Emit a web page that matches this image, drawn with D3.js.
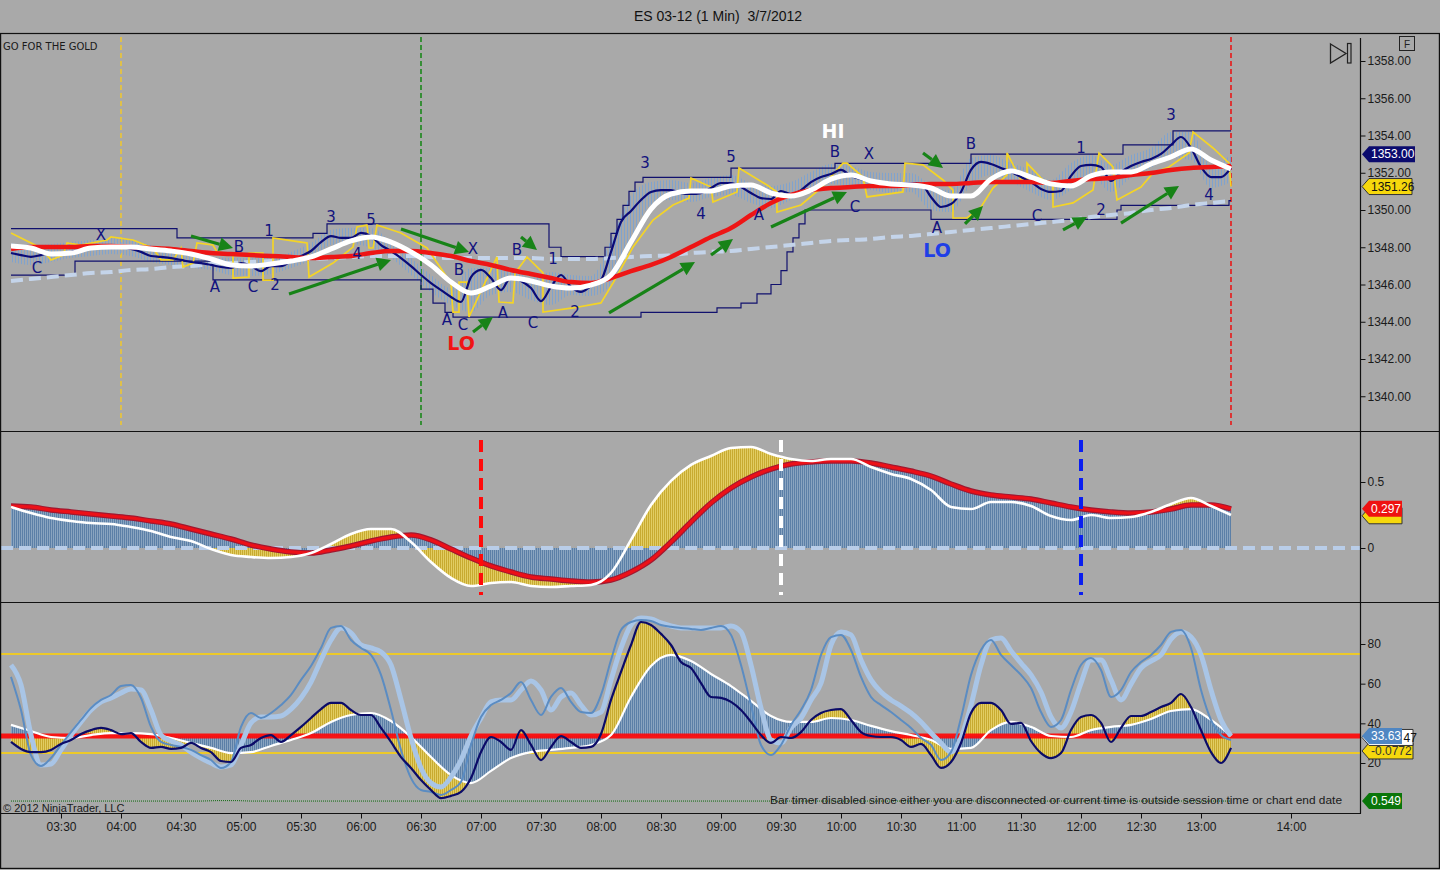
<!DOCTYPE html>
<html><head><meta charset="utf-8">
<script src="https://cdn.jsdelivr.net/npm/d3@7/dist/d3.min.js"></script>
<style>
html,body{margin:0;padding:0;background:#a9a9a9;}
svg{display:block;}
text{font-family:"Liberation Sans",Arial,sans-serif;}
</style></head><body>
<svg id="c" width="1440" height="870"></svg>
<script>
// ---------------- DATA ----------------
const chartTitle = "ES 03-12 (1 Min)  3/7/2012";
const seriesStart = "03:05";           // first bar of every series
const xTickLabels = ["03:30","04:00","04:30","05:00","05:30","06:00","06:30","07:00","07:30","08:00","08:30","09:00","09:30","10:00","10:30","11:00","11:30","12:00","12:30","13:00","14:00"];
const priceTicks = [1340,1342,1344,1346,1348,1350,1352,1354,1356,1358];
const oscTicks = [0,0.5];
const stochTicks = [20,40,60,80];

// price panel: 5-minute fast line
const priceFast = [1347.69,1347.58,1347.48,1347.58,1347.69,1347.69,1347.75,1347.85,1347.96,1348.01,
 1348.01,1348.01,1347.91,1347.75,1347.53,1347.48,1347.42,1347.32,1347.21,1347.15,
 1347.05,1346.94,1346.89,1347.15,1346.99,1346.72,1346.99,1346.99,1347.26,1347.53,
 1347.80,1348.28,1348.60,1348.50,1348.50,1348.77,1348.60,1348.12,1347.80,1347.42,
 1346.99,1346.51,1346.08,1345.70,1345.33,1345.06,1346.40,1346.78,1346.35,1345.70,
 1346.40,1346.19,1345.81,1345.11,1345.87,1346.51,1345.87,1345.60,1345.92,1346.24,
 1347.75,1349.36,1349.95,1350.54,1350.97,1351.07,1351.07,1350.91,1350.86,1350.91,
 1351.18,1351.45,1351.45,1351.23,1350.91,1350.64,1350.59,1351.02,1350.86,1351.07,
 1351.50,1351.77,1351.93,1352.15,1351.83,1351.66,1351.56,1351.50,1351.45,1351.45,
 1351.45,1351.40,1350.70,1350.16,1350.32,1350.97,1352.15,1352.58,1352.47,1352.26,
 1352.04,1351.77,1351.50,1351.13,1350.97,1351.02,1351.83,1352.36,1352.42,1352.31,
 1351.56,1352.04,1352.36,1352.58,1352.74,1353.01,1353.49,1353.92,1353.33,1352.31,
 1351.77,1351.77,1352.26];
// price panel: 10-minute series
const priceWhite = [1348.07,1347.96,1347.64,1347.69,1347.96,1348.01,1348.01,1347.91,1347.80,1347.64,
 1347.37,1347.05,1346.99,1347.10,1347.26,1347.48,1347.91,1348.34,1348.55,1348.28,
 1347.75,1347.05,1346.13,1345.54,1345.92,1346.35,1346.19,1345.92,1345.81,1345.97,
 1346.51,1348.28,1350.05,1350.86,1351.02,1351.02,1351.29,1351.34,1350.91,1350.75,
 1351.07,1351.66,1351.88,1351.56,1351.40,1351.34,1351.18,1350.75,1350.75,1351.66,
 1352.09,1351.77,1351.40,1351.29,1351.83,1352.04,1352.04,1352.47,1352.85,1353.28,
 1352.68,1352.20];
const priceRed = [1347.91,1348.01,1348.01,1348.01,1348.07,1348.07,1348.01,1347.96,1347.91,1347.80,
 1347.69,1347.64,1347.58,1347.53,1347.48,1347.42,1347.48,1347.53,1347.69,1347.80,
 1347.80,1347.69,1347.53,1347.26,1347.05,1346.78,1346.56,1346.35,1346.13,1346.08,
 1346.35,1346.72,1347.05,1347.48,1348.01,1348.55,1349.03,1349.73,1350.38,1350.81,
 1351.07,1351.18,1351.23,1351.29,1351.29,1351.34,1351.40,1351.40,1351.45,1351.50,
 1351.50,1351.50,1351.45,1351.56,1351.66,1351.72,1351.88,1351.99,1352.15,1352.26,
 1352.31,1352.36];
const priceDashed = [1346.19,1346.30,1346.40,1346.51,1346.62,1346.67,1346.78,1346.83,1346.94,1346.99,
 1347.10,1347.15,1347.21,1347.26,1347.32,1347.37,1347.42,1347.48,1347.53,1347.53,
 1347.53,1347.48,1347.42,1347.42,1347.42,1347.42,1347.42,1347.37,1347.37,1347.37,
 1347.42,1347.48,1347.53,1347.58,1347.69,1347.75,1347.80,1347.91,1348.01,1348.12,
 1348.23,1348.34,1348.39,1348.45,1348.55,1348.61,1348.71,1348.82,1348.93,1349.03,
 1349.14,1349.25,1349.35,1349.46,1349.62,1349.73,1349.84,1350.00,1350.11,1350.27,
 1350.38,1350.48];
const barHigh = [1348.23,1348.12,1348.17,1348.28,1348.39,1348.50,1348.39,1348.12,1347.85,1347.64,
 1347.48,1347.42,1347.42,1347.42,1347.75,1348.23,1348.93,1349.03,1349.03,1348.28,
 1347.42,1346.51,1345.81,1346.89,1346.89,1346.89,1346.35,1346.67,1346.51,1346.46,
 1348.39,1350.81,1351.50,1351.61,1351.45,1351.72,1351.88,1351.45,1351.29,1351.50,
 1352.04,1352.47,1352.36,1352.04,1351.99,1351.99,1351.34,1351.07,1352.79,1352.95,
 1352.52,1352.15,1351.61,1352.52,1352.95,1352.42,1352.95,1353.33,1354.19,1354.19,
 1352.42,1352.95];
const barLow = [1347.21,1347.05,1347.21,1347.42,1347.53,1347.64,1347.53,1347.21,1347.05,1346.89,
 1346.78,1346.51,1346.46,1346.56,1346.89,1347.32,1348.12,1348.17,1347.96,1347.42,
 1346.51,1345.60,1344.90,1344.52,1345.44,1345.60,1345.17,1344.90,1345.44,1345.38,
 1345.97,1348.39,1350.27,1350.54,1350.43,1350.70,1350.81,1350.38,1350.11,1350.54,
 1350.97,1351.40,1351.23,1351.07,1350.91,1350.97,1350.00,1349.89,1351.34,1351.88,
 1351.50,1350.97,1350.54,1351.07,1351.88,1350.97,1351.72,1352.26,1352.79,1352.68,
 1351.18,1351.50];
// channel step lines
const envUpperT = ["03:05","04:28","05:36","05:43","07:34","07:40","08:02","08:05","08:08","08:11","08:14","08:17","08:21","09:05","09:57","11:05","12:21","12:46","13:15"];
const envUpperV = [1349.0,1348.5,1348.75,1349.25,1348.0,1347.5,1348.0,1348.75,1349.5,1350.25,1351.0,1351.5,1351.75,1352.25,1352.5,1353.0,1353.5,1354.25,1354.25];
const envLowerT = ["03:05","03:37","04:46","06:30","06:36","06:42","06:46","08:20","08:58","09:10","09:18","09:25","09:30","09:33","09:36","09:39","09:42","10:45","12:18","12:20","13:14","13:15"];
const envLowerV = [1346.5,1347.25,1346.25,1345.75,1345.0,1344.5,1344.25,1344.5,1344.75,1345.0,1345.5,1346.0,1346.75,1347.75,1348.5,1349.25,1350.0,1349.5,1350.0,1350.25,1350.5,1350.5];
// yellow trailing line
const yellowT = ["03:05","03:20","03:25","03:31","03:33","03:40","03:53","03:55","04:06","04:16","04:20","04:26","04:30","04:31","04:36","04:38","04:46","04:48","04:56","04:56","05:04","05:04","05:11","05:11","05:16","05:16","05:30","05:33","05:34","05:46","05:56","05:58","06:03","06:04","06:06","06:08","06:11","06:20","06:33","06:45","06:46","06:49","06:49","06:53","06:54","07:08","07:09","07:16","07:17","07:23","07:31","07:31","07:46","08:00","08:06","08:16","08:26","08:36","08:44","08:45","08:55","08:56","09:08","09:09","09:23","09:28","09:28","09:40","09:50","10:01","10:03","10:11","10:13","10:31","10:32","10:41","10:51","10:56","10:56","11:03","11:10","11:16","11:23","11:23","11:30","11:33","11:33","11:41","11:46","11:46","11:56","12:06","12:09","12:16","12:18","12:30","12:36","12:44","12:54","12:56","13:06","13:14","13:15"];
const yellowV = [1348.77,1347.96,1347.32,1347.58,1348.23,1348.12,1348.39,1348.55,1348.39,1347.96,1347.32,1347.32,1347.96,1346.94,1347.15,1348.23,1348.12,1347.75,1347.58,1346.35,1346.40,1347.69,1347.69,1346.24,1346.24,1348.50,1348.28,1348.23,1346.40,1347.15,1348.01,1349.09,1349.19,1347.96,1347.96,1349.19,1349.09,1348.77,1347.96,1346.08,1344.52,1344.52,1346.13,1346.13,1344.26,1347.48,1345.06,1345.01,1346.62,1347.48,1346.62,1344.52,1344.74,1345.01,1346.08,1348.01,1349.46,1350.27,1350.64,1351.72,1351.23,1350.43,1350.97,1352.26,1351.34,1350.97,1349.89,1350.27,1351.18,1352.52,1352.52,1351.77,1350.70,1350.97,1352.52,1352.42,1351.61,1351.07,1349.57,1349.57,1350.16,1351.18,1351.88,1353.06,1351.61,1351.61,1352.52,1351.61,1351.45,1350.16,1350.38,1351.07,1353.06,1352.31,1350.54,1351.23,1351.99,1352.31,1353.06,1354.19,1353.33,1352.52,1351.26];
// wave labels [time, price, text]
const waveLabels = [["03:18",1346.89,"C"],["03:50",1348.66,"X"],["04:59",1348.01,"B"],["05:14",1348.87,"1"],["05:45",1349.62,"3"],["06:05",1349.46,"5"],["05:58",1347.64,"4"],["04:47",1345.87,"A"],["05:06",1345.87,"C"],["05:17",1345.97,"2"],["06:56",1347.91,"X"],["06:49",1346.78,"B"],["07:18",1347.85,"B"],["07:36",1347.37,"1"],["06:43",1344.09,"A"],["06:51",1343.83,"C"],["07:11",1344.47,"A"],["07:26",1343.93,"C"],["07:47",1344.52,"2"],["08:22",1352.52,"3"],["09:05",1352.85,"5"],["08:50",1349.79,"4"],["09:19",1349.73,"A"],["09:57",1353.11,"B"],["10:14",1353.01,"X"],["10:07",1350.16,"C"],["11:05",1353.54,"B"],["10:48",1349.03,"A"],["11:38",1349.68,"C"],["12:00",1353.33,"1"],["12:10",1350.00,"2"],["12:45",1355.10,"3"],["13:04",1350.81,"4"]];
const hiLoLabels = [["09:56",1354.24,"HI"],["10:48",1347.85,"LO"],["06:50",1342.86,"LO"]];
// arrows [fromTime, fromPrice, toTime, toPrice]
const arrows = [["04:35",1348.60,"04:56",1347.96],["05:24",1345.49,"06:15",1347.32],["06:20",1348.98,"06:54",1347.74],["06:56",1343.45,"07:06",1344.26],["07:20",1348.55,"07:28",1347.85],["08:04",1344.47,"08:47",1347.21],["08:55",1347.58,"09:06",1348.44],["09:25",1349.09,"10:03",1350.97],["10:41",1353.06,"10:51",1352.26],["11:02",1349.25,"11:11",1350.21],["11:51",1348.93,"12:03",1349.62],["12:20",1349.30,"12:49",1351.29]];
const priceMarkerTimes = ["04:00","06:30","13:15"];
const oscMarkerTimes = ["07:00","09:30","12:00"];

// middle oscillator (10-minute)
const oscRed = [0.318,0.311,0.288,0.273,0.258,0.242,0.227,0.205,0.182,0.144,
 0.106,0.068,0.023,-0.008,-0.030,-0.038,-0.015,0.015,0.053,0.083,
 0.098,0.061,-0.008,-0.076,-0.136,-0.182,-0.220,-0.235,-0.250,-0.258,
 -0.242,-0.182,-0.091,0.045,0.197,0.341,0.455,0.538,0.598,0.636,
 0.652,0.659,0.659,0.644,0.614,0.583,0.545,0.485,0.432,0.402,
 0.386,0.371,0.341,0.311,0.288,0.273,0.265,0.273,0.295,0.326,
 0.326,0.297];
const oscWhite = [0.311,0.265,0.227,0.205,0.189,0.182,0.159,0.129,0.083,0.053,
 -0.008,-0.053,-0.068,-0.076,-0.068,-0.038,0.030,0.106,0.144,0.144,
 0.045,-0.106,-0.227,-0.288,-0.265,-0.258,-0.288,-0.295,-0.288,-0.280,
 -0.189,0.061,0.326,0.508,0.629,0.697,0.758,0.765,0.712,0.674,
 0.659,0.674,0.674,0.614,0.561,0.523,0.439,0.311,0.295,0.348,
 0.348,0.318,0.242,0.212,0.250,0.227,0.235,0.273,0.333,0.379,
 0.318,0.250];

// bottom stochastics (5-minute)
const stNavy = [30.6,27.1,25.5,25.5,26.6,29.6,31.6,34.6,36.6,37.7,
 36.6,34.6,35.1,30.6,27.6,28.1,27.1,27.6,30.1,27.6,
 25.5,21.0,20.5,27.6,29.1,32.6,34.1,30.6,34.1,38.2,
 42.7,47.2,50.3,50.3,46.7,44.2,44.2,37.7,30.6,23.0,
 17.5,11.4,6.4,2.3,3.4,5.4,12.4,25.5,33.1,30.6,
 26.6,36.6,29.1,21.5,28.1,33.6,30.6,27.6,28.1,34.6,
 51.8,65.9,79.5,91.1,89.6,85.1,79.5,70.9,67.9,60.3,
 53.3,52.8,50.8,46.7,40.7,34.1,30.1,33.1,32.6,35.6,
 41.7,45.2,46.7,47.2,41.7,35.6,33.6,33.1,33.1,31.6,
 28.1,29.6,24.0,17.5,20.5,30.1,45.2,50.3,50.3,46.7,
 39.7,40.2,31.1,25.0,22.5,25.0,36.6,43.2,44.2,40.2,
 30.6,37.7,43.7,43.7,45.7,48.2,50.3,54.8,48.2,36.6,
 25.5,20.0,27.6];
const stLight = [69.4,59.3,34.1,19.0,19.5,26.6,34.1,40.7,46.7,50.8,
 52.8,55.3,57.3,56.8,46.7,34.1,31.1,29.1,25.5,22.5,
 20.0,18.0,19.0,29.1,40.2,43.2,43.2,43.7,47.2,52.8,
 60.8,71.9,82.0,88.1,85.6,79.5,78.0,76.0,69.4,51.8,
 32.6,17.5,9.9,7.9,12.9,21.5,33.6,42.7,50.8,51.8,
 51.8,56.8,61.4,56.8,46.7,53.3,55.3,49.2,44.2,45.7,
 61.9,78.0,89.6,93.1,92.6,90.6,89.1,88.1,88.1,88.1,
 88.1,88.1,89.1,86.1,69.4,47.7,31.6,30.1,37.7,42.7,
 51.8,60.3,79.5,86.1,84.6,71.9,61.9,55.8,51.8,48.7,
 45.2,40.7,35.1,30.1,25.5,32.6,49.2,69.4,82.0,83.0,
 76.5,70.4,64.4,55.8,43.2,37.7,45.7,60.3,71.9,71.9,
 61.9,51.8,59.8,67.9,71.4,74.5,82.5,86.1,83.5,74.5,
 56.8,41.7,33.6];
const stSteel = [63.4,46.7,24.0,18.5,22.5,29.1,35.6,41.7,47.7,51.8,
 54.3,58.8,59.3,52.8,38.2,30.6,29.1,28.1,26.6,24.0,
 21.5,17.5,20.5,38.2,45.2,42.7,45.2,49.2,54.3,61.9,
 68.9,78.0,88.1,89.1,82.0,78.0,74.5,64.4,46.7,26.6,
 12.4,6.4,5.4,3.9,6.4,10.4,29.1,43.2,49.2,51.8,
 55.3,60.8,51.8,44.2,53.3,57.8,50.8,45.7,45.2,54.3,
 71.9,87.1,91.1,92.1,91.6,89.6,88.7,88.1,87.6,87.1,
 88.1,89.1,84.6,69.4,49.2,29.1,24.0,29.1,39.2,46.7,
 56.8,74.5,83.5,84.6,77.0,63.4,53.3,49.2,45.7,41.7,
 37.7,32.6,29.1,21.5,25.5,42.7,64.4,77.0,82.0,74.5,
 69.4,64.4,57.8,45.7,38.2,41.7,56.8,69.4,72.9,66.9,
 53.3,56.8,65.9,70.9,74.5,79.5,86.1,87.1,78.0,56.8,
 41.7,34.1,31.6];
// bottom white average (10-minute)
const stWhite = [39.2,36.1,33.1,32.6,34.1,35.1,35.1,34.6,32.6,30.1,
 27.6,25.0,25.5,28.6,31.6,35.1,40.7,44.2,45.2,41.2,
 33.1,23.0,13.9,9.9,16.0,22.5,25.5,26.6,27.6,29.1,
 34.1,53.3,68.9,74.5,71.4,64.9,58.8,51.3,43.7,40.7,
 40.7,42.7,41.7,38.7,36.1,34.1,31.6,27.1,27.6,36.6,
 40.7,38.2,33.6,33.1,36.6,38.2,39.2,42.2,46.2,47.2,
 41.7,33.6];
const stochLevel = 33.63;
const stochBands = [75,25];
const greenT = ["03:05","04:40","04:48","04:58","05:05","13:15"];
const greenV = [0.549,0.549,0.556,0.556,0.549,0.549];

// last-value tags
const priceTags = [[1353.00,"1353.00"],[1351.26,"1351.26"]];
const oscTags = [[0.297,"0.297"]];
const stochTags = [[33.63,"33.63"],[33.6347,"47"],[-0.0772,"-0.0772"]];
const greenTag = [0.549,"0.549"];

// ---------------- CHART ----------------
const svg = d3.select("#c");
const AX = 1361;
const PT = 33.5, PB = 431.5, MB = 602.5, BB = 813.5;
svg.append("rect").attr("width",1440).attr("height",870).attr("fill","#a9a9a9");

const tp = d3.timeParse("%H:%M");
const t0 = tp(seriesStart);
const t5 = d3.range(priceFast.length).map(i => d3.timeMinute.offset(t0, i*5));
const t10 = d3.range(priceWhite.length).map(i => d3.timeMinute.offset(t0, i*10));

const x = d3.scaleTime().domain([tp("03:00"), tp("13:15"), tp("14:00")]).range([1, 1231, 1291]);
const yP = d3.scaleLinear().domain([1340,1358]).range([396.25,61]);
const yM = d3.scaleLinear().domain([0,0.5]).range([548,482]);
const yB = d3.scaleLinear().domain([20,80]).range([763,644]);
const yG = d3.scaleLinear().domain([0.4,0.7]).range([810,792]);

const defs = svg.append("defs");
function hatch(id, bg, fg, w, pw){
  const p = defs.append("pattern").attr("id",id).attr("patternUnits","userSpaceOnUse").attr("width",pw).attr("height",4);
  if (bg) p.append("rect").attr("width",pw).attr("height",4).attr("fill",bg);
  p.append("rect").attr("width",w).attr("height",4).attr("fill",fg);
}
hatch("hBlue","#94adc7","#5b7fa7",1.2,2);
hatch("hYellow","#e2cd62","#c8aa30",1,2);
hatch("hBar",null,"#79a2d4",1,3);
function clip(id,y0,y1){ defs.append("clipPath").attr("id",id).append("rect").attr("x",1).attr("y",y0).attr("width",AX-1).attr("height",y1-y0); }
clip("cP",PT+1,PB-1); clip("cM",PB+0.5,MB-0.5); clip("cB",MB+0.5,BB-0.5);

// title and notes
svg.append("text").attr("x",718).attr("y",21).attr("text-anchor","middle").style("font-size","14px").style("white-space","pre").attr("fill","#111").text(chartTitle);
svg.append("text").attr("x",3).attr("y",50).style("font-size","10px").style("font-family","DejaVu Sans").attr("fill","#1a1a1a").text("GO FOR THE GOLD");

// ---------- price panel ----------
const gP = svg.append("g").attr("clip-path","url(#cP)");
priceMarkerTimes.forEach((t,i)=>{
  gP.append("line").attr("x1",x(tp(t))).attr("x2",x(tp(t))).attr("y1",37).attr("y2",425)
    .attr("stroke",["#e9c53a","#238a23","#e62020"][i]).attr("stroke-width",1.7).attr("stroke-dasharray","5,3");
});
gP.append("path").datum(d3.zip(t10,barHigh,barLow))
  .attr("d", d3.area().x(d=>x(d[0])).y0(d=>yP(d[2])).y1(d=>yP(d[1])).curve(d3.curveMonotoneX))
  .attr("fill","url(#hBar)").attr("opacity",0.85);
const stepLine = d3.line().x(d=>x(tp(d[0]))).y(d=>yP(d[1])).curve(d3.curveStepAfter);
gP.append("path").attr("d",stepLine(d3.zip(envUpperT,envUpperV))).attr("fill","none").attr("stroke","#11116e").attr("stroke-width",1.2);
gP.append("path").attr("d",stepLine(d3.zip(envLowerT,envLowerV))).attr("fill","none").attr("stroke","#11116e").attr("stroke-width",1.2);
const line10 = d3.line().x((d,i)=>x(t10[i])).y(d=>yP(d)).curve(d3.curveMonotoneX);
const line5 = d3.line().x((d,i)=>x(t5[i])).y(d=>yP(d)).curve(d3.curveMonotoneX);
gP.append("path").attr("d",line10(priceDashed)).attr("fill","none").attr("stroke","#c4d4ea").attr("stroke-width",4).attr("stroke-dasharray","12,6");
gP.append("path").attr("d",d3.line().x(d=>x(tp(d[0]))).y(d=>yP(d[1]))(d3.zip(yellowT,yellowV))).attr("fill","none").attr("stroke","#f4d426").attr("stroke-width",1.7);
gP.append("path").attr("d",line5(priceFast)).attr("fill","none").attr("stroke","#0b0b78").attr("stroke-width",2.2);
gP.append("path").attr("d",line10(priceRed)).attr("fill","none").attr("stroke","#ee1515").attr("stroke-width",4.5);
gP.append("path").attr("d",line10(priceWhite)).attr("fill","none").attr("stroke","#ffffff").attr("stroke-width",5);
arrows.forEach(a=>{
  const x1=x(tp(a[0])), y1=yP(a[1]), x2=x(tp(a[2])), y2=yP(a[3]);
  const ang=Math.atan2(y2-y1,x2-x1), L=14, Wd=7;
  const bx=x2-L*Math.cos(ang), by=y2-L*Math.sin(ang);
  gP.append("line").attr("x1",x1).attr("y1",y1).attr("x2",bx).attr("y2",by).attr("stroke","#178317").attr("stroke-width",3.2);
  gP.append("path").attr("d",`M${x2},${y2}L${bx+Wd*Math.sin(ang)},${by-Wd*Math.cos(ang)}L${bx-Wd*Math.sin(ang)},${by+Wd*Math.cos(ang)}Z`).attr("fill","#178317");
});
gP.selectAll("text.wl").data(waveLabels).join("text").attr("class","wl")
  .attr("x",d=>x(tp(d[0]))).attr("y",d=>yP(d[1])).attr("dy","0.35em").attr("text-anchor","middle")
  .style("font-family","DejaVu Sans").style("font-size","15px").attr("fill","#12127e").text(d=>d[2]);
gP.selectAll("text.hl").data(hiLoLabels).join("text").attr("class","hl")
  .attr("x",d=>x(tp(d[0]))).attr("y",d=>yP(d[1])).attr("dy","0.35em").attr("text-anchor","middle")
  .style("font-family","DejaVu Sans").style("font-size","19px").style("font-weight","bold")
  .attr("fill",(d,i)=>["#ffffff","#1f3fe6","#f01414"][i]).text(d=>d[2]);

// ---------- oscillator panel ----------
const gM = svg.append("g").attr("clip-path","url(#cM)");
const aM = arr => d3.area().x((d,i)=>x(t10[i])).y0(yM(0)).y1(d=>yM(d)).curve(d3.curveMonotoneX)(arr);
gM.append("path").attr("d",aM(oscWhite)+aM(oscRed)).attr("fill","url(#hYellow)").attr("fill-rule","evenodd");
gM.append("path").attr("d",aM(oscRed)).attr("fill","url(#hBlue)");
gM.append("line").attr("x1",1).attr("x2",AX).attr("y1",yM(0)).attr("y2",yM(0)).attr("stroke","#b9cde8").attr("stroke-width",4).attr("stroke-dasharray","12,6");
const lM = d3.line().x((d,i)=>x(t10[i])).y(d=>yM(d)).curve(d3.curveMonotoneX);
gM.append("path").attr("d",lM(oscRed)).attr("fill","none").attr("stroke","#a01830").attr("stroke-width",5.5);
gM.append("path").attr("d",lM(oscRed)).attr("fill","none").attr("stroke","#ec1018").attr("stroke-width",3.2);
gM.append("path").attr("d",lM(oscWhite)).attr("fill","none").attr("stroke","#ffffff").attr("stroke-width",2.6);
oscMarkerTimes.forEach((t,i)=>{
  gM.append("line").attr("x1",x(tp(t))).attr("x2",x(tp(t))).attr("y1",440).attr("y2",595)
    .attr("stroke",["#ff0a0a","#ffffff","#0a1ef0"][i]).attr("stroke-width",4).attr("stroke-dasharray","12,7");
});

// ---------- stochastic panel ----------
const gB = svg.append("g").attr("clip-path","url(#cB)");
stochBands.forEach(v=>gB.append("line").attr("x1",1).attr("x2",AX).attr("y1",yB(v)).attr("y2",yB(v)).attr("stroke","#ecc92a").attr("stroke-width",2));
const aB = (arr,tt) => d3.area().x((d,i)=>x(tt[i])).y0(yB(stochLevel)).y1(d=>yB(d)).curve(d3.curveMonotoneX)(arr);
gB.append("path").attr("d",aB(stNavy,t5)+aB(stWhite,t10)).attr("fill","url(#hYellow)").attr("fill-rule","evenodd");
gB.append("path").attr("d",aB(stWhite,t10)).attr("fill","url(#hBlue)");
gB.append("line").attr("x1",1).attr("x2",AX).attr("y1",yB(stochLevel)).attr("y2",yB(stochLevel)).attr("stroke","#ff0808").attr("stroke-width",5).attr("opacity",0.92);
gB.append("path").attr("d",d3.line().x(d=>x(tp(d[0]))).y(d=>yG(d[1]))(d3.zip(greenT,greenV))).attr("fill","none").attr("stroke","#0b6b0b").attr("stroke-width",1).attr("stroke-dasharray","1,1");
const lB = tt => d3.line().x((d,i)=>x(tt[i])).y(d=>yB(d)).curve(d3.curveMonotoneX);
gB.append("path").attr("d",lB(t10)(stWhite)).attr("fill","none").attr("stroke","#ffffff").attr("stroke-width",2.2);
gB.append("path").attr("d",lB(t5)(stLight)).attr("fill","none").attr("stroke","#a9c5e6").attr("stroke-width",5);
gB.append("path").attr("d",lB(t5)(stSteel)).attr("fill","none").attr("stroke","#5b8cc2").attr("stroke-width",2);
gB.append("path").attr("d",lB(t5)(stNavy)).attr("fill","none").attr("stroke","#0b0b68").attr("stroke-width",2.2);
svg.append("text").attr("x",3).attr("y",812).style("font-size","11px").attr("fill","#1a1a1a").text("\u00a9 2012 NinjaTrader, LLC");
svg.append("text").attr("x",1342).attr("y",804).attr("text-anchor","end").style("font-size","10.5px")
  .attr("textLength",572).attr("lengthAdjust","spacingAndGlyphs").attr("fill","#1a1a1a")
  .text("Bar timer disabled since either you are disconnected or current time is outside session time or chart end date");

// ---------- frames ----------
const fr = svg.append("g").attr("stroke","#111").attr("stroke-width",1.2).attr("fill","none");
fr.append("line").attr("x1",0).attr("x2",1440).attr("y1",PT).attr("y2",PT);
fr.append("line").attr("x1",0).attr("x2",1440).attr("y1",PB).attr("y2",PB);
fr.append("line").attr("x1",0).attr("x2",1440).attr("y1",MB).attr("y2",MB);
fr.append("line").attr("x1",0).attr("x2",AX).attr("y1",BB).attr("y2",BB);
fr.append("line").attr("x1",AX-0.5).attr("x2",AX-0.5).attr("y1",38).attr("y2",BB);
fr.append("rect").attr("x",0.6).attr("y",PT).attr("width",1438.8).attr("height",868.4-PT);

// ---------- axes ----------
function styleAxis(g){ g.select(".domain").remove(); g.selectAll("text").style("font-size","12px").style("font-family","Liberation Sans").attr("fill","#1a1a1a"); g.selectAll("line").attr("stroke","#111"); }
svg.append("g").attr("transform",`translate(${AX-0.5},0)`).call(d3.axisRight(yP).tickValues(priceTicks).tickFormat(d3.format(".2f")).tickSize(5).tickPadding(2)).call(styleAxis);
svg.append("g").attr("transform",`translate(${AX-0.5},0)`).call(d3.axisRight(yM).tickValues(oscTicks).tickFormat(d=>d===0?"0":d3.format(".1f")(d)).tickSize(5).tickPadding(2)).call(styleAxis);
svg.append("g").attr("transform",`translate(${AX-0.5},0)`).call(d3.axisRight(yB).tickValues(stochTicks).tickSize(5).tickPadding(2)).call(styleAxis);
svg.append("g").attr("transform",`translate(0,${BB})`).call(d3.axisBottom(x).tickValues(xTickLabels.map(tp)).tickFormat(d3.timeFormat("%H:%M")).tickSize(5).tickPadding(4)).call(styleAxis);

// ---------- tags ----------
function tagBox(yc, fill, w, stroke){
  const x0 = AX+1;
  return svg.append("path").attr("d",`M${x0},${yc}L${x0+7},${yc-8}L${x0+w},${yc-8}L${x0+w},${yc+8}L${x0+7},${yc+8}Z`)
    .attr("fill",fill).attr("stroke",stroke||"none").attr("stroke-width",1);
}
function tagText(yc, text, color, tx){
  svg.append("text").attr("x",tx||AX+10).attr("y",yc).attr("dy","0.36em").style("font-size","12px").attr("fill",color).text(text);
}
function tag(yc, text, fill, color, w, stroke){ tagBox(yc,fill,w,stroke); tagText(yc,text,color); }
tag(yP(priceTags[0][0]), priceTags[0][1], "#0b0b6e", "#ffffff", 53);
tag(yP(priceTags[1][0]), priceTags[1][1], "#f6d80c", "#111", 50, "#333");
tagBox(yM(oscTags[0][0])+7, "#f6d80c", 40, "#333");
tag(yM(oscTags[0][0]), oscTags[0][1], "#ee1111", "#ffffff", 40);
const ySt = yB(stochTags[0][0]);
tag(ySt+15, stochTags[2][1], "#f6d80c", "#333", 51, "#333");
tagBox(ySt+1.5, "#ffffff", 51, "#333");
tagText(ySt+1.5, stochTags[1][1], "#111", AX+42.5);
tagBox(ySt, "#4f86c2", 40);
tagText(ySt, stochTags[0][1], "#ffffff");
tag(yG(greenTag[0]), greenTag[1], "#0a760a", "#ffffff", 40);

// F box and play icon
svg.append("rect").attr("x",1399.5).attr("y",36.5).attr("width",15).attr("height",14).attr("fill","none").attr("stroke","#222");
svg.append("text").attr("x",1407).attr("y",47.5).attr("text-anchor","middle").style("font-size","10px").attr("fill","#222").text("F");
svg.append("path").attr("d","M1330.5,44L1346,53.5L1330.5,63Z").attr("fill","none").attr("stroke","#222").attr("stroke-width",1.3);
svg.append("rect").attr("x",1347.5).attr("y",43.5).attr("width",3.5).attr("height",19.5).attr("fill","none").attr("stroke","#222").attr("stroke-width",1.2);
</script></body></html>
